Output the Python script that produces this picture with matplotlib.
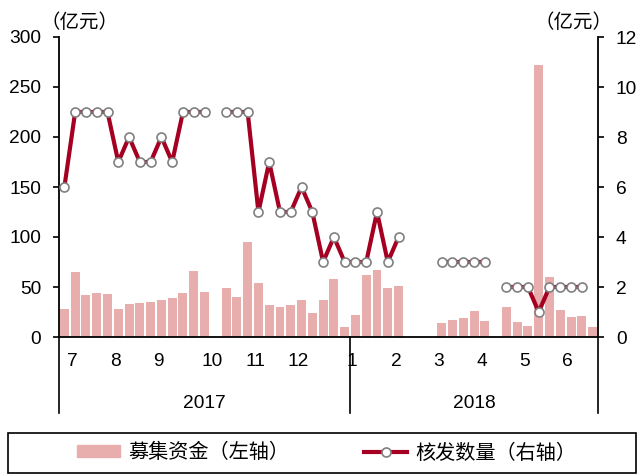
import numpy as np
import matplotlib.pyplot as plt
from matplotlib.patches import Rectangle
from matplotlib import font_manager as fm

# weekly slots, Jul 2017 - Jun 2018 (nan = no data that week)
nan = np.nan
funds = [28, 65, 42, 44, 43, 28, 33, 34, 35, 37, 39, 44, 66, 45, nan,
         49, 40, 95, 54, 32, 30, 32, 37, 24, 37, 58, 10,
         22, 62, 67, 49, 51, nan, nan, nan, 14, 17, 19, 26, 16, nan,
         30, 15, 11, 272, 60, 27, 20, 21, 10]
approvals = [6, 9, 9, 9, 9, 7, 8, 7, 7, 8, 7, 9, 9, 9, nan,
             9, 9, 9, 5, 7, 5, 5, 6, 5, 3, 4, 3,
             3, 3, 5, 3, 4, nan, nan, nan, 3, 3, 3, 3, 3, nan,
             2, 2, 2, 1, 2, 2, 2, 2, nan]
months = ["7", "8", "9", "10", "11", "12", "1", "2", "3", "4", "5", "6"]
years = ["2017", "2018"]

month_pos = [1.7, 5.7, 9.7, 14.7, 18.7, 22.7, 27.7, 31.8, 35.75, 39.7, 43.7, 47.7]
year_pos = [14, 39]
year_edges = [0.5, 27.5, 50.5]

names = {f.name for f in fm.fontManager.ttflist}
if "Liberation Sans Narrow" in names:
    num_font, fs = "Liberation Sans Narrow", 14.5
else:
    num_font, fs = "Liberation Sans", 13.8
cjk = ["Noto Sans CJK SC", "DejaVu Sans"]
plt.rcParams["font.family"] = [num_font, "Noto Sans CJK SC"]

bar_color = "#E8AEAE"
line_color = "#A50021"

W, H = 638, 474
fig = plt.figure(figsize=(W / 100, H / 100), dpi=100)
ax = fig.add_axes([59 / W, 1 - 337 / H, (598 - 59) / W, 300 / H])
ax2 = ax.twinx()

x = np.arange(1, len(funds) + 1)
ax.bar(x, np.nan_to_num(funds), width=0.83, color=bar_color, zorder=2)
ax2.plot(x, approvals, color=line_color, lw=3, marker="o", ms=6.5,
         mfc="white", mec="#808080", mew=1.2, zorder=3)

ax.set_xlim(0.5, len(funds) + 0.5)
ax.set_ylim(0, 300)
ax.set_yticks(range(0, 301, 50))
ax2.set_ylim(0, 12)
ax2.set_yticks(range(0, 13, 2))
ax.set_xticks([])

for a in (ax, ax2):
    a.spines["top"].set_visible(False)
    for s in a.spines.values():
        s.set_linewidth(1.3)
ax.spines["right"].set_visible(False)
ax2.spines["left"].set_visible(False)
ax2.spines["bottom"].set_visible(False)
ax.tick_params(axis="y", direction="out", length=4.3, width=1.2, pad=8.5, labelsize=fs)
ax2.tick_params(axis="y", direction="out", length=4.3, width=1.2, pad=8.5, labelsize=fs)

# month / year labels under the axis
tr = ax.get_xaxis_transform()
for m, p in zip(months, month_pos):
    ax.text(p, -0.083, m, transform=tr, ha="center", va="center", fontsize=fs)
for yl, p in zip(years, year_pos):
    ax.text(p, -0.22, yl, transform=tr, ha="center", va="center", fontsize=fs)
for e in year_edges:
    ax.plot([e, e], [0, -0.253], transform=tr, color="black", lw=1.2, clip_on=False)

# unit labels
fig.text(80 / W, 1 - 22 / H, "（亿元）", ha="center", va="center", fontsize=14, family=cjk)
fig.text(574 / W, 1 - 22 / H, "（亿元）", ha="center", va="center", fontsize=14, family=cjk)

# legend
fig.patches.append(Rectangle((8 / W, 1.5 / H), 628 / W, 40 / H, transform=fig.transFigure,
                             fill=False, edgecolor="black", lw=1.2))
h1 = Rectangle((0, 0), 1, 1, color=bar_color)
h2 = plt.Line2D([], [], color=line_color, lw=3, marker="o", ms=6.5,
                mfc="white", mec="#808080", mew=1.2)
fig.legend([h1, h2], ["募集资金（左轴）", "核发数量（右轴）"], ncol=2,
           loc="center left", bbox_to_anchor=(77 / W, 21 / H), frameon=False,
           borderpad=0, borderaxespad=0, handlelength=2.15, handleheight=0.55,
           handletextpad=0.4, columnspacing=3.7, prop={"family": cjk, "size": 14.5})

fig.savefig("out.png", dpi=100)
